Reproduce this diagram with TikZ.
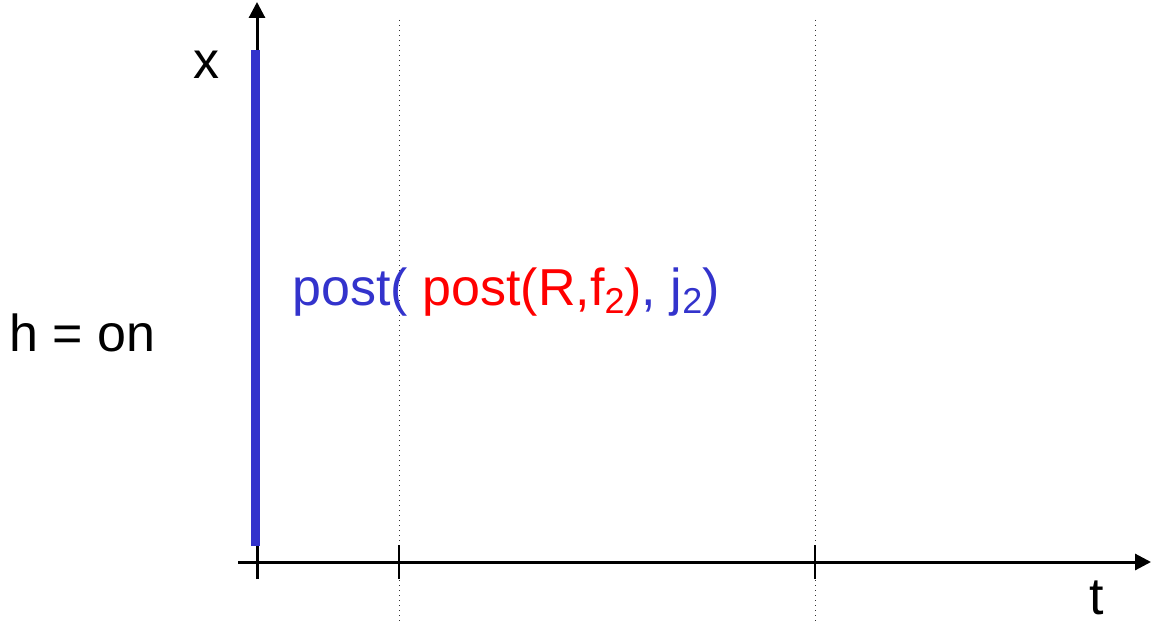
\documentclass[tikz,border=0pt]{standalone}
\usepackage{fontspec}
\setmainfont{Liberation Sans}
\usepackage{xcolor}
\usetikzlibrary{arrows.meta,positioning}
\definecolor{setblue}{RGB}{51,51,204}
\definecolor{setred}{RGB}{255,0,0}
\newcommand{\lowsub}[1]{\raisebox{-0.14em}{\fontsize{18}{20}\selectfont #1}}
\tikzset{
  axis/.style={
    draw=black,
    line width=1.5pt,
    -{Triangle[length=8pt,width=8pt]}
  },
  tickmark/.style={
    draw=black,
    line width=1.2pt
  },
  timeline/.style={
    draw=black!80,
    line width=0.5pt,
    dotted
  },
  region/.style={
    draw=setblue,
    line width=4.5pt
  },
  label/.style={
    font=\fontsize{26}{30}\selectfont,
    inner sep=0pt
  }
}

\begin{document}
\begin{tikzpicture}[x=0.5pt,y=-0.5pt]
  \useasboundingbox (0,0) rectangle (1154,624);

  % axes
  \coordinate (origin) at (257,562);
  \coordinate (xstart) at (238,562);
  \coordinate (tend) at (1151,562);
  \coordinate (xbottom) at (257,579);
  \coordinate (xend) at (257,2);
  \draw[axis] (xstart) -- (tend);
  \draw[axis] (xbottom) -- (xend);

  % switching times
  \coordinate (ttop1) at (399,20);
  \coordinate (tbot1) at (399,624);
  \coordinate (ttop2) at (815,20);
  \coordinate (tbot2) at (815,624);
  \draw[timeline] (ttop1) -- (tbot1);
  \draw[timeline] (ttop2) -- (tbot2);
  \coordinate (tick1a) at (399,545);
  \coordinate (tick1b) at (399,579);
  \coordinate (tick2a) at (815,545);
  \coordinate (tick2b) at (815,579);
  \draw[tickmark] (tick1a) -- (tick1b);
  \draw[tickmark] (tick2a) -- (tick2b);

  % reachable set at t = 0
  \coordinate (rtop) at (255,50);
  \coordinate (rbot) at (255,546);
  \draw[region] (rtop) -- (rbot);

  \node[label] (xlab) at (206,65) {x};
  \node[label] (tlab) at (1097,598) {t};
  \node[label, anchor=base west] (mode) at (9,352) {h = on};
  \node[label, anchor=base west] (post) at (292,306)
    {\textcolor{setblue}{post(} \textcolor{setred}{post(R,f\lowsub{2})}\textcolor{setblue}{, j\lowsub{2})}};
\end{tikzpicture}
\end{document}
